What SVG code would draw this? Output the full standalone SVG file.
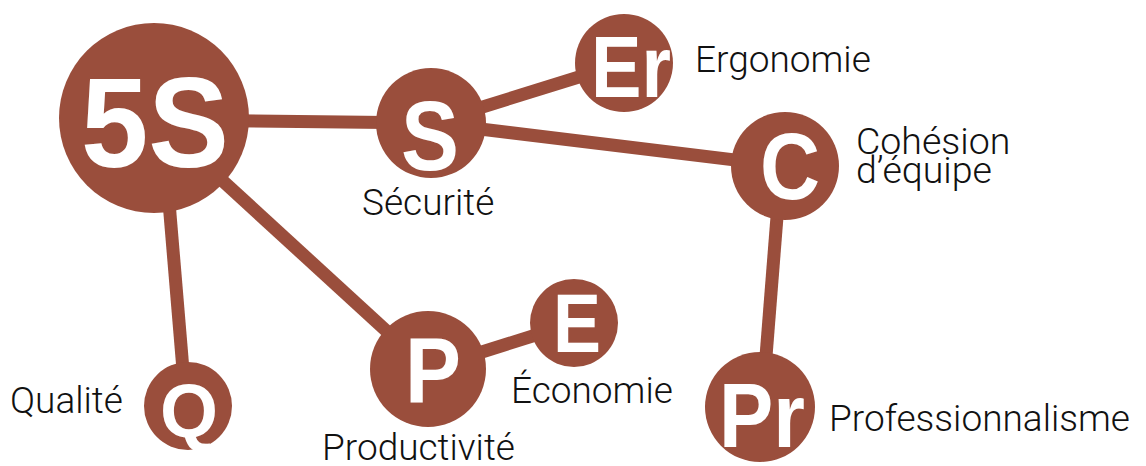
<svg xmlns="http://www.w3.org/2000/svg" width="1146" height="466" viewBox="0 0 1146 466">
  <style>
    .edge { stroke: #9A4E3C; stroke-width: 13; stroke-linecap: butt; fill: none; }
    .disc { fill: #9A4E3C; }
    .big { fill: #ffffff; font-family: "Liberation Sans", Arial, sans-serif; font-weight: 700; text-anchor: middle; }
    .lbl { fill: #111111; font-family: Roboto, "Liberation Sans", sans-serif; font-weight: 300; font-size: 37px; }
    .lbl2 { fill: #111111; font-family: Roboto, "Liberation Sans", sans-serif; font-weight: 300; font-size: 37.5px; }
  </style>
  <rect width="1146" height="466" fill="#ffffff"/>
  <g id="connectors">
    <line class="edge" x1="154" y1="120" x2="431" y2="123"/>
    <line class="edge" x1="431" y1="123" x2="624" y2="63"/>
    <line class="edge" x1="431" y1="123" x2="785" y2="166"/>
    <line class="edge" x1="781" y1="166" x2="762" y2="407"/>
    <line class="edge" x1="162" y1="118" x2="186" y2="406"/>
    <line class="edge" x1="154" y1="118" x2="428" y2="369"/>
    <line class="edge" x1="428" y1="369" x2="574" y2="323"/>
  </g>
  <g id="node-5S">
    <circle class="disc" cx="154" cy="118" r="95"/>
    <text class="big" x="155" y="167" font-size="128" textLength="148" lengthAdjust="spacingAndGlyphs">5S</text>
  </g>
  <g id="node-S">
    <circle class="disc" cx="431" cy="123" r="55"/>
    <text class="big" x="430" y="170" font-size="98" textLength="58" lengthAdjust="spacingAndGlyphs">S</text>
    <text class="lbl" x="362" y="215">Sécurité</text>
  </g>
  <g id="node-Er">
    <circle class="disc" cx="624" cy="63" r="49"/>
    <text class="big" x="631" y="97" font-size="87" textLength="80" lengthAdjust="spacingAndGlyphs">Er</text>
    <text class="lbl" x="695" y="72">Ergonomie</text>
  </g>
  <g id="node-C">
    <circle class="disc" cx="785" cy="166" r="54"/>
    <text class="big" x="790" y="199" font-size="95" textLength="60" lengthAdjust="spacingAndGlyphs">C</text>
    <text class="lbl2" x="856" y="154">Cohésion</text>
    <text class="lbl2" x="856" y="183">d’équipe</text>
  </g>
  <g id="node-Q">
    <circle class="disc" cx="188" cy="406" r="44"/>
    <text class="big" x="189" y="437" font-size="76" textLength="58" lengthAdjust="spacingAndGlyphs">Q</text>
    <text class="lbl" x="10" y="413">Qualité</text>
  </g>
  <g id="node-P">
    <circle class="disc" cx="428" cy="369" r="58"/>
    <text class="big" x="433" y="403" font-size="92" textLength="56" lengthAdjust="spacingAndGlyphs">P</text>
    <text class="lbl" x="322" y="460">Productivité</text>
  </g>
  <g id="node-E">
    <circle class="disc" cx="574" cy="323" r="44"/>
    <text class="big" x="577" y="352" font-size="84" textLength="48" lengthAdjust="spacingAndGlyphs">E</text>
    <text class="lbl" x="511" y="403">Économie</text>
  </g>
  <g id="node-Pr">
    <circle class="disc" cx="760" cy="407" r="55"/>
    <text class="big" x="762" y="447" font-size="90" textLength="86" lengthAdjust="spacingAndGlyphs">Pr</text>
    <text class="lbl" x="829" y="431">Professionnalisme</text>
  </g>
</svg>
